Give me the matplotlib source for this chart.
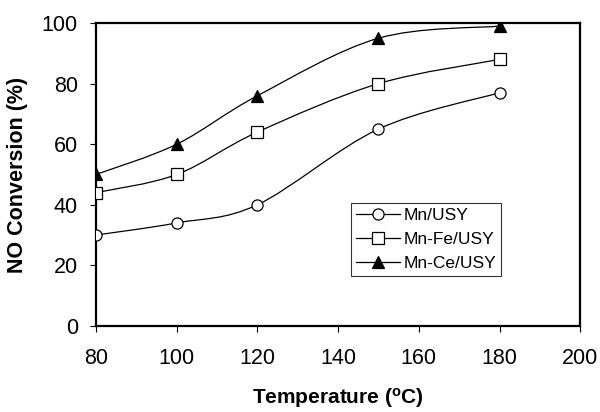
import numpy as np
import matplotlib
matplotlib.use('Agg')
import matplotlib.pyplot as plt
from matplotlib.path import Path
from matplotlib.patches import PathPatch
from matplotlib.lines import Line2D

plt.rcParams['font.family'] = ['Liberation Sans', 'DejaVu Sans']

temps = [80, 100, 120, 150, 180]
mn_usy = [30, 34, 40, 65, 77]
mn_fe_usy = [44, 50, 64, 80, 88]
mn_ce_usy = [50, 60, 76, 95, 99]

series = [
    ('Mn/USY', mn_usy, 'o', 'white'),
    ('Mn-Fe/USY', mn_fe_usy, 's', 'white'),
    ('Mn-Ce/USY', mn_ce_usy, '^', 'black'),
]


def smooth_path(xs, ys):
    # Excel-style smoothed line: cubic bezier through every point
    pts = np.column_stack([xs, ys]).astype(float)
    n = len(pts)
    verts = [pts[0]]
    codes = [Path.MOVETO]
    for i in range(n - 1):
        p0 = pts[max(i - 1, 0)]
        p1 = pts[i]
        p2 = pts[i + 1]
        p3 = pts[min(i + 2, n - 1)]
        c1 = p1 + (p2 - p0) / 6.0
        c2 = p2 - (p3 - p1) / 6.0
        verts += [c1, c2, p2]
        codes += [Path.CURVE4] * 3
    return Path(verts, codes)


fig = plt.figure(figsize=(6, 4.12), dpi=100)
ax = fig.add_axes([0.16, 0.209, 0.807, 0.735])

handles = []
for name, vals, mk, fc in series:
    ax.add_patch(PathPatch(smooth_path(temps, vals), fill=False,
                           edgecolor='black', lw=0.9, zorder=2))
    ax.plot(temps, vals, linestyle='none', marker=mk, ms=8,
            mfc=fc, mec='black', mew=0.9, zorder=3)
    handles.append(Line2D([], [], color='black', lw=0.9, marker=mk, ms=8,
                          mfc=fc, mec='black', mew=0.9, label=name))

ax.set_xlim(80, 200)
ax.set_ylim(0, 100)
ax.set_xticks(range(80, 201, 20))
ax.set_yticks(range(0, 101, 20))

for s in ax.spines.values():
    s.set_linewidth(1.6)
ax.tick_params(direction='out', length=4, width=0.8, labelsize=15.5,
               top=False, right=False)
ax.tick_params(axis='y', pad=9)
ax.tick_params(axis='x', pad=12)

ax.set_xlabel('Temperature ($\\mathregular{^oC}$)', fontsize=15,
              fontweight='bold', labelpad=12)
ax.set_ylabel('NO Conversion (%)', fontsize=15.5, fontweight='bold',
              labelpad=10)

leg = ax.legend(handles=handles, loc='upper left',
                bbox_to_anchor=(0.527, 0.406), borderaxespad=0,
                fontsize=12.5, frameon=True, fancybox=False,
                handlelength=2.5, handletextpad=0.2, labelspacing=0.5,
                borderpad=0.3)
leg.get_frame().set_edgecolor('black')
leg.get_frame().set_linewidth(0.8)

fig.savefig('out.png', dpi=100)
